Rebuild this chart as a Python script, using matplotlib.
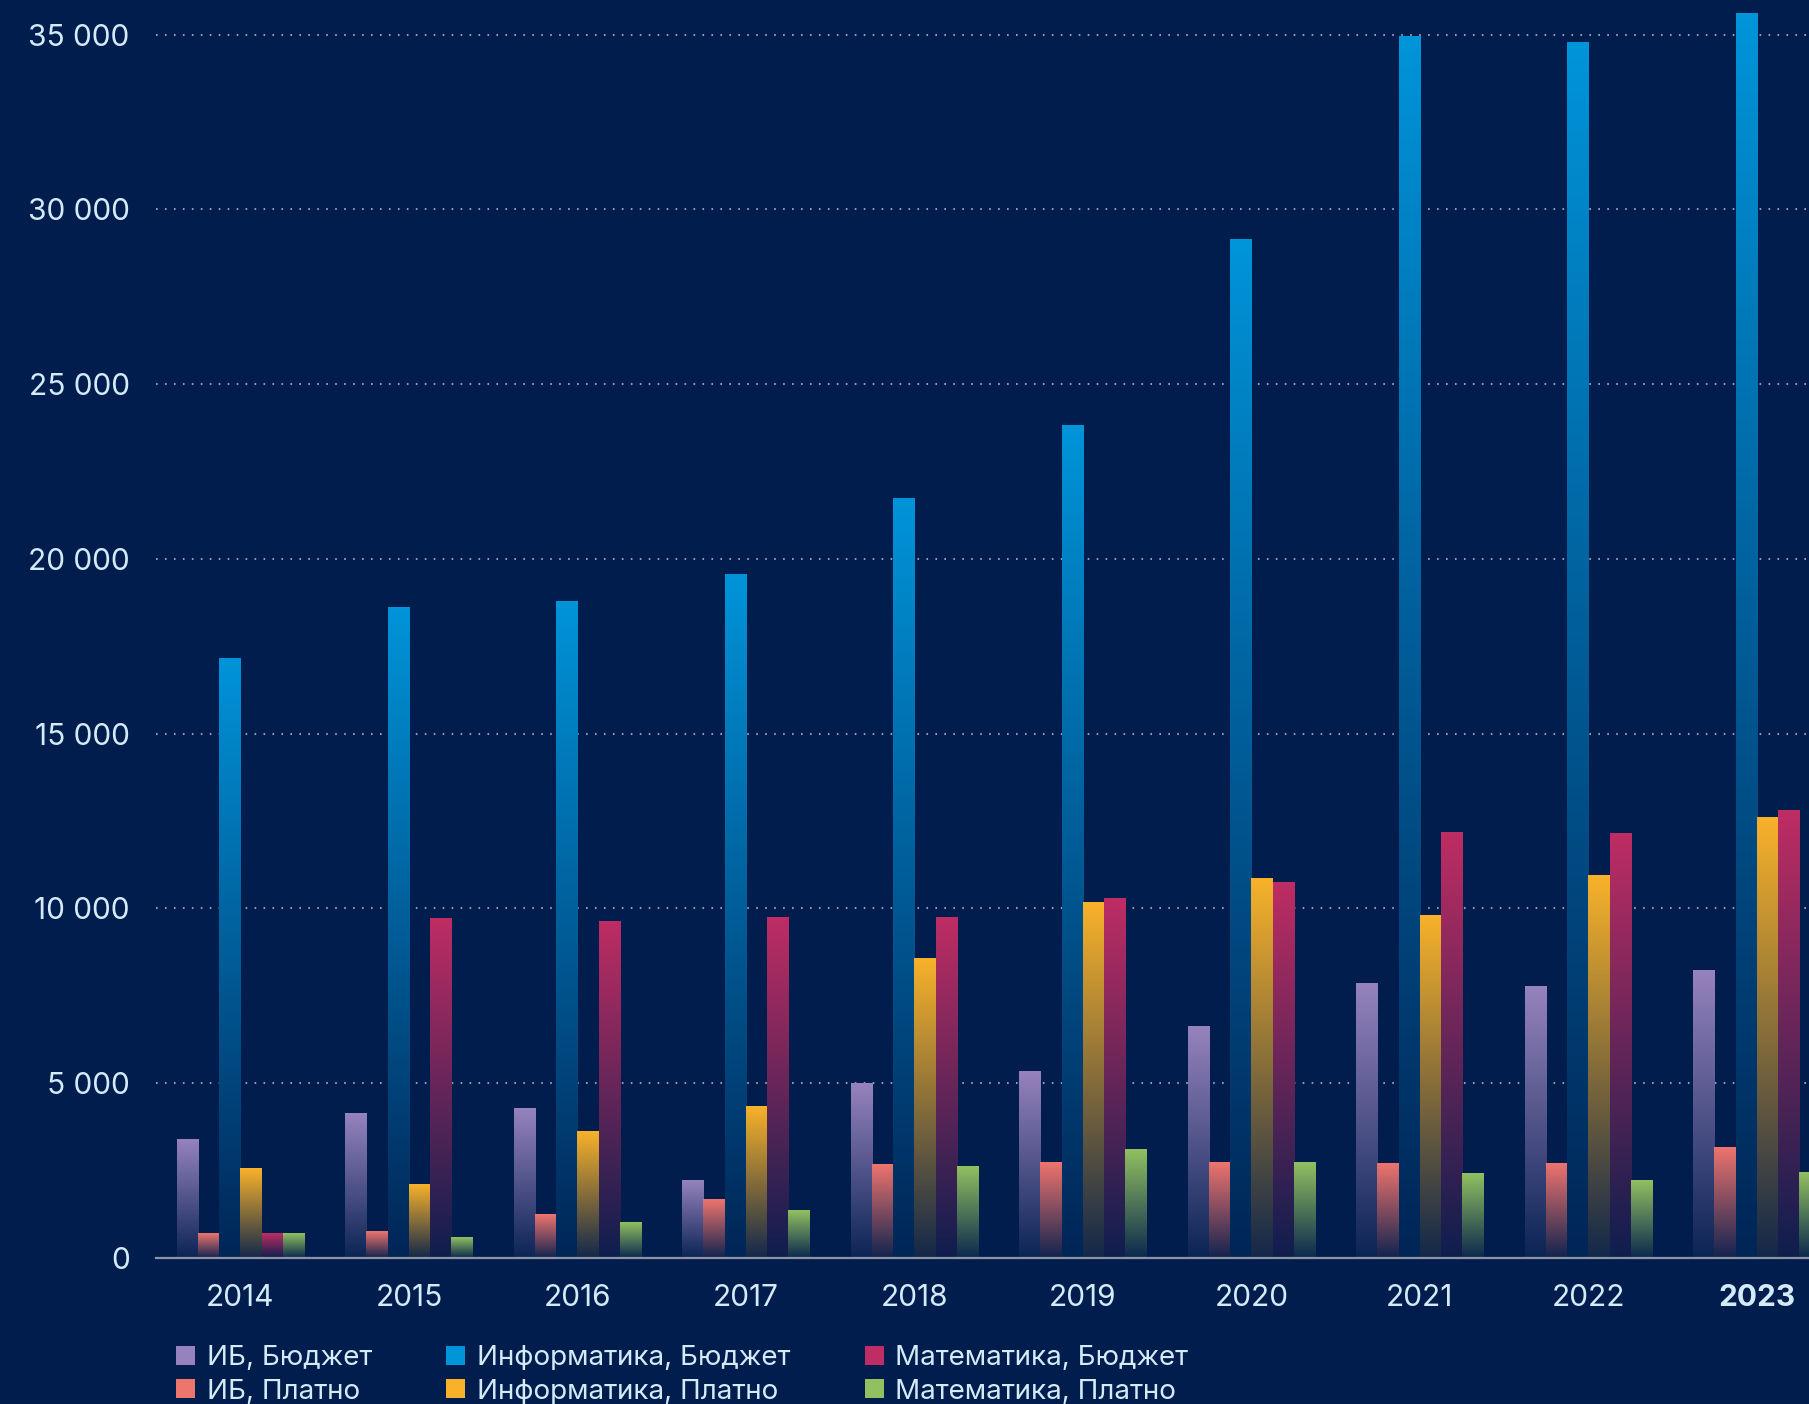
import numpy as np
import matplotlib
matplotlib.use("Agg")
import matplotlib.pyplot as plt
from matplotlib.colors import LinearSegmentedColormap, to_rgb
from matplotlib.patches import Patch
from matplotlib.ticker import FuncFormatter

plt.rcParams['font.family'] = ['Inter', 'DejaVu Sans']

years = [2014, 2015, 2016, 2017, 2018, 2019, 2020, 2021, 2022, 2023]

ib_budget = [3400, 4120, 4290, 2210, 4980, 5340, 6630, 7850, 7760, 8230]
ib_paid = [700, 760, 1250, 1680, 2670, 2740, 2740, 2710, 2715, 3170]
inf_budget = [17150, 18600, 18770, 19560, 21740, 23820, 29130, 34950, 34770, 35600]
inf_paid = [2550, 2100, 3630, 4320, 8580, 10160, 10850, 9800, 10950, 12590]
mat_budget = [690, 9700, 9630, 9730, 9730, 10290, 10750, 12170, 12150, 12810]
mat_paid = [690, 600, 1020, 1350, 2610, 3100, 2740, 2410, 2230, 2460]

labels = ["ИБ, Бюджет", "ИБ, Платно", "Информатика, Бюджет",
          "Информатика, Платно", "Математика, Бюджет", "Математика, Платно"]
series = [ib_budget, ib_paid, inf_budget, inf_paid, mat_budget, mat_paid]
colors = ["#9683BE", "#EE746E", "#0094D9", "#F8B22A", "#BE2D63", "#92C060"]

bg = "#011D4D"
txt = "#D4EAF7"

fig = plt.figure(figsize=(18.09, 14.04), dpi=100, facecolor=bg)
ax = fig.add_axes([156 / 1809, 1 - 1258 / 1404, 1 - 156 / 1809, 1258 / 1404])
ax.set_facecolor(bg)

w = 0.126
x = np.array(years, dtype=float)
grad = np.linspace(0, 1, 256).reshape(-1, 1)

for i, (vals, c) in enumerate(zip(series, colors)):
    bars = ax.bar(x + (i - 2.5) * w, vals, width=w, align='center', color=c)
    # fade each bar from its colour at the top to the background at the bottom
    lo = np.array(to_rgb(bg)) * 0.93 + np.array(to_rgb(c)) * 0.07
    cmap = LinearSegmentedColormap.from_list("g%d" % i, [lo, to_rgb(c)])
    for r in bars:
        r.set_visible(False)
        x0, h = r.get_x(), r.get_height()
        ax.imshow(grad, extent=[x0, x0 + r.get_width(), 0, h], origin='lower',
                  aspect='auto', cmap=cmap, zorder=2, interpolation='bilinear')

ax.set_xlim(2013.499, 2023.309)
ax.set_ylim(0, 35990)

ax.set_yticks(np.arange(0, 35001, 5000))
ax.yaxis.set_major_formatter(FuncFormatter(lambda v, p: "{:,}".format(int(v)).replace(",", " ")))
ax.set_xticks(years)
ax.set_xticklabels([str(y) for y in years])
ax.get_xticklabels()[-1].set_fontweight('bold')

ax.tick_params(axis='both', length=0, colors=txt, labelsize=21.5)
ax.tick_params(axis='x', pad=18.5)
ax.tick_params(axis='y', pad=19)

ax.set_axisbelow(True)
ax.yaxis.grid(True, color="#8E9CB4", linewidth=1.5, linestyle=(0, (0.8, 3.5)))
for s in ['top', 'right', 'left']:
    ax.spines[s].set_visible(False)
ax.spines['bottom'].set_color("#8C93A3")
ax.spines['bottom'].set_linewidth(1.6)
ax.spines['bottom'].set_zorder(3)

handles = [Patch(facecolor=c, edgecolor='none') for c in colors]
leg = fig.legend(handles, labels, ncol=3, loc='upper left',
                 bbox_to_anchor=(176 / 1809, 1 - 1345 / 1404), frameon=False,
                 fontsize=20, labelcolor=txt, handlelength=0.68, handleheight=0.68,
                 handletextpad=0.42, columnspacing=2.68, labelspacing=0.27,
                 borderpad=0, borderaxespad=0)

fig.savefig("out.png", dpi=100, facecolor=bg)
